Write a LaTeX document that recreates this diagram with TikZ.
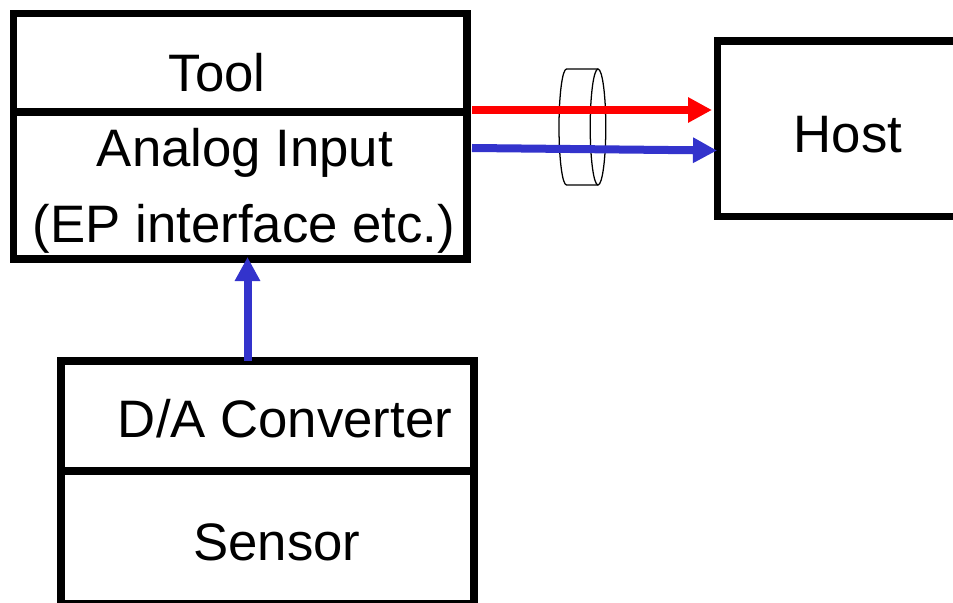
\documentclass[tikz,border=0pt]{standalone}
\usepackage{fontspec}
\setmainfont{Liberation Sans}
\usepackage{xcolor}
\usetikzlibrary{positioning,arrows.meta}
\definecolor{sigblue}{RGB}{51,51,204}
\tikzset{
  blockbox/.style={draw, line width=0.195cm, inner sep=0pt, outer sep=0pt},
  lbl/.style={anchor=base, inner sep=0pt, font=\fontsize{37.5}{44}\selectfont},
  sig/.style={line width=0.2cm, -{Triangle[length=0.6cm,width=0.6cm]}},
}
\begin{document}
\begin{tikzpicture}[x=0.025cm,y=-0.025cm]
\useasboundingbox (0,0) rectangle (953,603);
% blocks
\node[blockbox, anchor=north west, minimum width=11.325cm, minimum height=2.4625cm] (toolhead) at (13.5,13.5) {};
\node[blockbox, below=0pt of toolhead, minimum width=11.325cm, minimum height=3.675cm] (toolin) {};
\node[blockbox, anchor=north west, minimum width=10.325cm, minimum height=2.75cm] (dahead) at (61,361) {};
\node[blockbox, below=0pt of dahead, minimum width=10.325cm, minimum height=3.325cm] (sensor) {};
\node[blockbox, anchor=north west, minimum width=6.5cm, minimum height=4.3875cm] (host) at (717.5,41) {};
% labels
\foreach \x/\y/\name/\txt in {
  217/92/tooltxt/Tool,
  245/167/analogtxt/Analog Input,
  244/243/eptxt/(EP interface etc.),
  285/437/datxt/{D/A Converter},
  277/560/sensortxt/Sensor,
  848/153/hosttxt/Host}
{
  \node[lbl] (\name) at (\x,\y) {\txt};
}
% cable
\draw[line width=0.9pt] (598,69) -- (566.5,69) arc[start angle=-90, end angle=-270, x radius=7.5, y radius=58] -- (598,185);
\draw[line width=0.9pt] (598,127) ellipse[x radius=7.8, y radius=58];
% signals
\coordinate (redA) at (472,110);
\coordinate (redB) at (712,110);
\coordinate (blueA) at (472,148);
\coordinate (blueB) at (717,150.5);
\coordinate (upA) at (247.5,361);
\coordinate (upB) at (247.5,257);
\draw[sig, red] (redA) -- (redB);
\draw[sig, sigblue] (blueA) -- (blueB);
\draw[sig, sigblue] (upA) -- (upB);
\end{tikzpicture}
\end{document}
